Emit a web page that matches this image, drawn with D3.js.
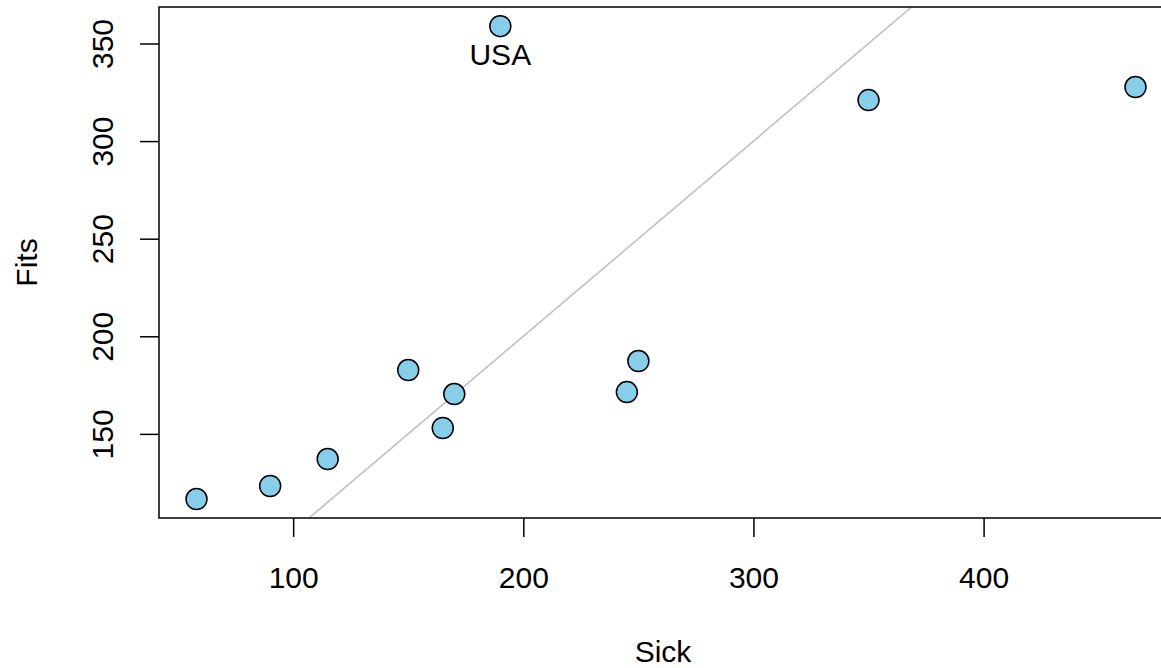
<!DOCTYPE html>
<html>
<head>
<meta charset="utf-8">
<script src="https://cdn.jsdelivr.net/npm/d3@7"></script>
<style>
  body { margin: 0; background: #fff; }
  text { font-family: "Liberation Sans", Arial, sans-serif; }
</style>
</head>
<body>
<div class="chart"></div>
<script>
// data
const countries = ["", "", "", "", "", "", "USA", "", "", "", ""];
const sick = [58, 90, 115, 150, 165, 170, 190, 245, 250, 350, 466];
const fits = [116.6, 123.3, 137.1, 182.7, 153.0, 170.4, 358.9, 171.4, 187.3, 321, 327.7];
const xTicks = [100, 200, 300, 400];
const yTicks = [150, 200, 250, 300, 350];

const W = 1161, H = 668;
const margin = { top: 7, left: 159, bottom: 150 };
const plotRight = 1173;
const fs = 30;

const svg = d3.select(".chart")
    .append("svg")
    .attr("width", W)
    .attr("height", H);

const x = d3.scaleLinear()
    .domain([41.7, 482.3])
    .range([margin.left, plotRight]);

const y = d3.scaleLinear()
    .domain([106.9, 368.7])
    .range([H - margin.bottom, margin.top]);

svg.append("clipPath").attr("id", "clip")
    .append("rect")
    .attr("x", margin.left).attr("y", margin.top)
    .attr("width", plotRight - margin.left)
    .attr("height", H - margin.bottom - margin.top);

// y = x reference line
svg.append("line")
    .attr("clip-path", "url(#clip)")
    .attr("x1", x(0)).attr("y1", y(0))
    .attr("x2", x(500)).attr("y2", y(500))
    .attr("stroke", "#bebebe")
    .attr("stroke-width", 1.5);

// plot box
svg.append("rect")
    .attr("x", margin.left).attr("y", margin.top)
    .attr("width", plotRight - margin.left)
    .attr("height", H - margin.bottom - margin.top)
    .attr("fill", "none")
    .attr("stroke", "#000")
    .attr("stroke-width", 1.5);

// axes
const xaxis = d3.axisBottom(x).tickValues(xTicks).tickSize(19);
const yaxis = d3.axisLeft(y).tickValues(yTicks).tickSize(19);

const gx = svg.append("g")
    .attr("transform", "translate(0," + (H - margin.bottom) + ")")
    .call(xaxis);
gx.select(".domain").remove();

const gy = svg.append("g")
    .attr("transform", "translate(" + margin.left + ",0)")
    .call(yaxis);
gy.select(".domain").remove();

svg.selectAll(".tick line").attr("stroke", "#000").attr("stroke-width", 1.5);
svg.selectAll(".tick text").attr("font-size", fs).attr("fill", "#000")
    .attr("font-family", "Liberation Sans, Arial, sans-serif");

gx.selectAll(".tick text").attr("y", 70).attr("dy", 0);

gy.selectAll(".tick text")
    .attr("text-anchor", "middle")
    .attr("x", 0).attr("dy", 0).attr("y", 0)
    .attr("transform", "translate(-46,0) rotate(-90)");

// points
svg.selectAll(".pt")
    .data(sick)
    .enter()
    .append("circle")
    .attr("class", "pt")
    .attr("cx", d => x(d))
    .attr("cy", (d, i) => y(fits[i]))
    .attr("r", 10.5)
    .attr("fill", "#87ceeb")
    .attr("stroke", "#000")
    .attr("stroke-width", 1.5);

// label
svg.selectAll(".lab")
    .data(countries.map((c, i) => ({ c: c, i: i })).filter(d => d.c !== ""))
    .enter()
    .append("text")
    .attr("class", "lab")
    .attr("x", d => x(sick[d.i]))
    .attr("y", d => y(fits[d.i]) + 39)
    .attr("text-anchor", "middle")
    .attr("font-size", fs)
    .text(d => d.c);

// axis titles
svg.append("text")
    .attr("x", 663)
    .attr("y", 662)
    .attr("text-anchor", "middle")
    .attr("font-size", fs)
    .text("Sick");

svg.append("text")
    .attr("transform", "translate(37," + ((margin.top + H - margin.bottom) / 2) + ") rotate(-90)")
    .attr("text-anchor", "middle")
    .attr("font-size", fs)
    .text("Fits");
</script>
</body>
</html>
